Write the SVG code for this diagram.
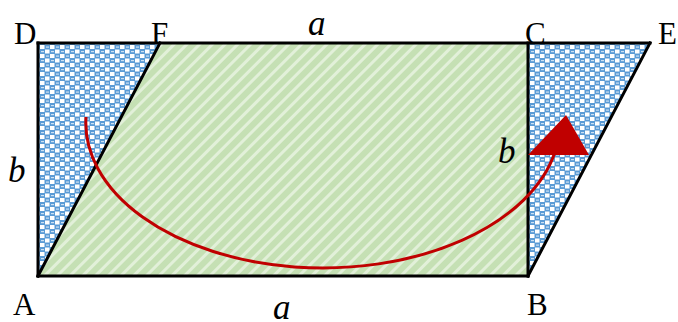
<svg xmlns="http://www.w3.org/2000/svg" width="678" height="322" viewBox="0 0 678 322">
<style>
.lbl{font-family:"Liberation Serif","DejaVu Serif",serif;font-size:31px;fill:#000}
.var{font-family:"Liberation Serif","DejaVu Serif",serif;font-style:italic;font-size:35px;fill:#000}
.edge{stroke:#000;stroke-width:3;fill:none;stroke-linecap:square}
</style>
<defs>
<pattern id="blue" width="10" height="9" patternUnits="userSpaceOnUse" x="40" y="45">
<rect width="10" height="9" fill="#5B9BD5"/>
<rect x="0" y="0" width="4.5" height="4" fill="#fff"/>
<rect x="5" y="4.5" width="4.5" height="4" fill="#fff"/>
<rect x="6" y="1.5" width="3" height="1.2" fill="#fff" opacity="0.7"/>
<rect x="1" y="6" width="3" height="1.2" fill="#fff" opacity="0.7"/>
</pattern>
<pattern id="green" width="9" height="9" patternUnits="userSpaceOnUse" patternTransform="rotate(45)">
<rect width="9" height="9" fill="#C5E0B4"/>
<rect x="0" y="0" width="3" height="9" fill="#E2F0D9"/>
</pattern>
</defs>
<g id="triangle-ADF"><polygon points="38,276 38,43 160,43" fill="url(#blue)"/></g>
<g id="triangle-BCE"><polygon points="528,276 528,43 650,43" fill="url(#blue)"/></g>
<g id="region-ABCF"><polygon points="38,276 528,276 528,43 160,43" fill="url(#green)"/></g>
<g id="edges">
<line class="edge" x1="38" y1="43" x2="650" y2="43"/>
<line class="edge" x1="38" y1="43" x2="38" y2="276"/>
<line class="edge" x1="38" y1="276" x2="528" y2="276"/>
<line class="edge" x1="528" y1="43" x2="528" y2="276"/>
<line class="edge" x1="38" y1="276" x2="160" y2="43"/>
<line class="edge" x1="528" y1="276" x2="650" y2="43"/>
</g>
<g id="arrow">
<path d="M86,117 A237,145 0 0 0 555,152" fill="none" stroke="#C00000" stroke-width="3"/>
<polygon points="566,115 528,155 589,155" fill="#C00000"/>
</g>
<g id="labels">
<text class="lbl" x="14" y="44">D</text>
<text class="lbl" x="151" y="44">F</text>
<text class="lbl" x="525" y="44">C</text>
<text class="lbl" x="658" y="44">E</text>
<text class="lbl" x="13" y="315">A</text>
<text class="lbl" x="527" y="315">B</text>
<text class="var" x="308" y="35">a</text>
<text class="var" x="273" y="319">a</text>
<text class="var" x="8" y="182">b</text>
<text class="var" x="498" y="163">b</text>
</g>
</svg>
